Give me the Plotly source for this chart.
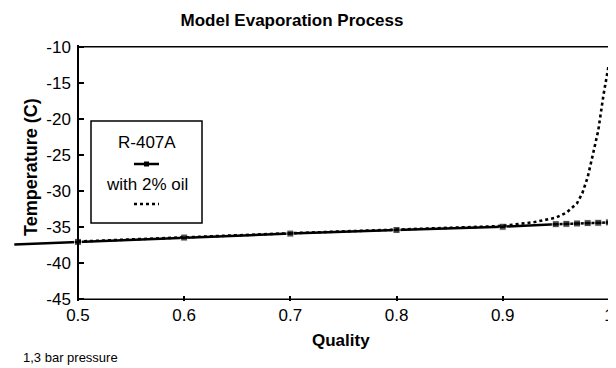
import plotly.graph_objects as go

# ---- data ----
quality_r407a = [0.44, 0.5, 0.6, 0.7, 0.8, 0.9, 0.95, 0.96, 0.97, 0.98, 0.99, 1.0]
temp_r407a = [-37.4, -37.05, -36.45, -35.9, -35.4, -34.95, -34.6, -34.55, -34.5, -34.45, -34.4, -34.35]

quality_oil = [0.5, 0.6, 0.7, 0.8, 0.9, 0.93, 0.95, 0.96, 0.97, 0.975, 0.98, 0.985, 0.99, 0.995, 1.0]
temp_oil = [-37.0, -36.4, -35.85, -35.35, -34.85, -34.3, -33.7, -33.0, -31.7, -30.3, -28.1, -24.9, -21.6, -16.6, -12.4]

x_ticks = [0.5, 0.6, 0.7, 0.8, 0.9, 1.0]
x_ticklabels = ["0.5", "0.6", "0.7", "0.8", "0.9", "1"]
y_ticks = [-45, -40, -35, -30, -25, -20, -15, -10]
y_ticklabels = ["-45", "-40", "-35", "-30", "-25", "-20", "-15", "-10"]

series_names = ["R-407A", "with 2% oil"]
title_text = "Model Evaporation Process"
x_title = "Quality"
y_title = "Temperature (C)"
note_text = "1,3 bar pressure"

# ---- layout geometry ----
# the page body has an 8px default margin, so the figure is drawn 8px in
OFF = 8
VIEW_W, VIEW_H = 616, 368
W, H = VIEW_W - OFF, VIEW_H - OFF
# plot area in viewport pixels: left 8, right 611, top 45, bottom 301
ML = 8 - OFF
MR = OFF + W - 611
MT = 45 - OFF
MB = OFF + H - 301
PW, PH = W - ML - MR, H - MT - MB
X_MIN, X_MAX = 0.43409, 1.002
Y_MIN, Y_MAX = -45.25, -9.75
FONT = "Arial, 'Liberation Sans', sans-serif"


def px_x(px):
    """viewport x pixel -> paper coordinate"""
    return (px - OFF - ML) / PW


def px_y(py):
    """viewport y pixel -> paper coordinate"""
    return 1 - (py - OFF - MT) / PH


fig = go.Figure()

marker_sizes = [0] + [7] * (len(quality_r407a) - 1)
fig.add_trace(go.Scatter(
    x=quality_r407a, y=temp_r407a, name=series_names[0], mode="lines+markers",
    line=dict(color="black", width=2.5),
    marker=dict(symbol="square", size=marker_sizes, color="black"),
    cliponaxis=False, showlegend=False,
))
fig.add_trace(go.Scatter(
    x=quality_oil, y=temp_oil, name=series_names[1], mode="lines",
    line=dict(color="black", width=2.6, dash="dot"),
    showlegend=False,
))

frame = dict(color="black", width=1.5)
shapes = [
    dict(type="line", xref="x", yref="y", x0=x_ticks[0], x1=x_ticks[-1], y0=y_ticks[0], y1=y_ticks[0], line=frame),
    dict(type="line", xref="x", yref="y", x0=x_ticks[0], x1=x_ticks[-1], y0=y_ticks[-1], y1=y_ticks[-1], line=frame),
    dict(type="line", xref="x", yref="y", x0=x_ticks[-1], x1=x_ticks[-1], y0=y_ticks[0], y1=y_ticks[-1], line=frame),
    # legend box
    dict(type="rect", xref="paper", yref="paper", x0=px_x(91), x1=px_x(202), y0=px_y(223), y1=px_y(121),
         line=dict(color="black", width=1.5), fillcolor="white", layer="above"),
    # legend samples
    dict(type="line", xref="paper", yref="paper", x0=px_x(134), x1=px_x(159), y0=px_y(164), y1=px_y(164),
         line=dict(color="black", width=2.5), layer="above"),
    dict(type="rect", xref="paper", yref="paper", x0=px_x(144), x1=px_x(149), y0=px_y(166.5), y1=px_y(161.5),
         line=dict(color="black", width=0), fillcolor="black", layer="above"),
    dict(type="line", xref="paper", yref="paper", x0=px_x(134), x1=px_x(159), y0=px_y(204), y1=px_y(204),
         line=dict(color="black", width=2.6, dash="dot"), layer="above"),
]

annotations = [
    dict(text=series_names[0], xref="paper", yref="paper", x=px_x(146.5), y=px_y(142),
         xanchor="center", yanchor="middle", showarrow=False, font=dict(family=FONT, size=17, color="black")),
    dict(text=series_names[1], xref="paper", yref="paper", x=px_x(146.5), y=px_y(184),
         xanchor="center", yanchor="middle", showarrow=False, font=dict(family=FONT, size=17, color="black")),
    dict(text="<b>" + x_title + "</b>", xref="paper", yref="paper", x=px_x(341), y=px_y(340),
         xanchor="center", yanchor="middle", showarrow=False, font=dict(family=FONT, size=17, color="black")),
    dict(text="<b>" + y_title + "</b>", xref="paper", yref="paper", x=px_x(31), y=px_y(167),
         xanchor="center", yanchor="middle", textangle=-90, showarrow=False,
         font=dict(family=FONT, size=18, color="black")),
    dict(text=note_text, xref="paper", yref="paper", x=px_x(21), y=px_y(357),
         xanchor="left", yanchor="middle", showarrow=False, font=dict(family=FONT, size=13, color="black")),
]

fig.update_layout(
    width=W, height=H,
    margin=dict(l=ML, r=MR, t=MT, b=MB, pad=0),
    paper_bgcolor="white", plot_bgcolor="white",
    title=dict(text="<b>" + title_text + "</b>", x=(292 - OFF) / W, xref="container", xanchor="center",
               y=1 - (20 - OFF) / H, yref="container", yanchor="middle",
               font=dict(family=FONT, size=17, color="black")),
    xaxis=dict(range=[X_MIN, X_MAX], tickvals=x_ticks, ticktext=x_ticklabels,
               showline=False, showgrid=False, zeroline=False,
               ticks="inside", ticklen=5, tickwidth=1.5, tickcolor="black",
               ticklabelstandoff=2,
               tickfont=dict(family=FONT, size=17, color="black")),
    yaxis=dict(range=[Y_MIN, Y_MAX], tickvals=y_ticks, ticktext=y_ticklabels,
               anchor="free", position=px_x(78),
               showline=True, linecolor="black", linewidth=1.5,
               showgrid=False, zeroline=False,
               ticks="inside", ticklen=5, tickwidth=1.5, tickcolor="black",
               ticklabelstandoff=3,
               tickfont=dict(family=FONT, size=17, color="black")),
    shapes=shapes,
    annotations=annotations,
    showlegend=False,
)

fig.write_html("out.html")
